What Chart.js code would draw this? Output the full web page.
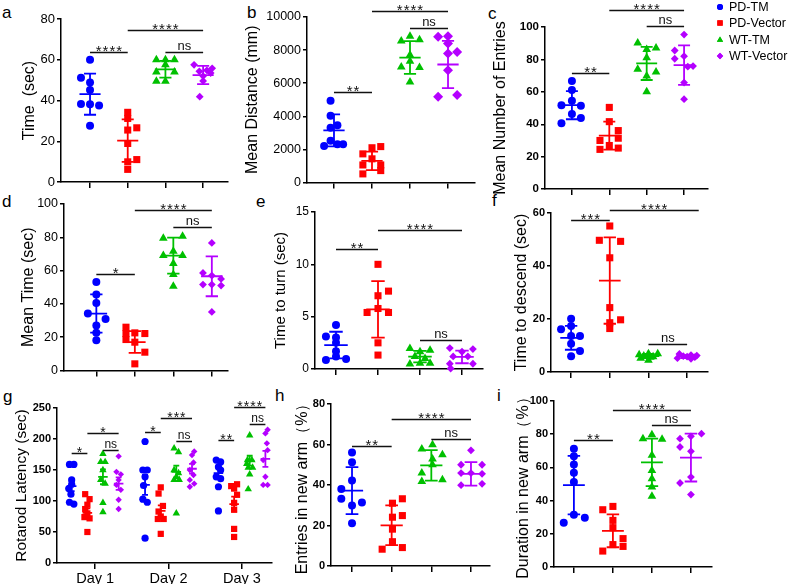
<!DOCTYPE html>
<html>
<head>
<meta charset="utf-8">
<script src="https://cdn.jsdelivr.net/npm/chart.js@4.4.1/dist/chart.umd.min.js"></script>
<style>
  body { margin: 0; background: #fff; }
  #fig { position: relative; width: 790px; height: 584px; overflow: hidden; background: #fff; }
  #fig canvas { position: absolute; }
  .lt { position: absolute; font: 17px "Liberation Sans", Arial, sans-serif; line-height: 17px; color: #000; }
</style>
</head>
<body>
<div id="fig">
  <div class="lt" style="left:2px;top:4px">a</div>
  <div class="lt" style="left:247px;top:4px">b</div>
  <div class="lt" style="left:488px;top:5px">c</div>
  <div class="lt" style="left:2px;top:193px">d</div>
  <div class="lt" style="left:256px;top:193px">e</div>
  <div class="lt" style="left:492px;top:192px">f</div>
  <div class="lt" style="left:3px;top:388px">g</div>
  <div class="lt" style="left:275px;top:387px">h</div>
  <div class="lt" style="left:497px;top:387px">i</div>
</div>
<script>
var groups = ['PD-TM', 'PD-Vector', 'WT-TM', 'WT-Vector'];
var colors = ['#0000ff', '#ff0000', '#00c000', '#b400ff'];
var shapes = ['circle', 'rect', 'triangle', 'rectRot'];

// a - time (sec)
var aY = [[60, 51.2, 48.8, 45.2, 38.3, 38.1, 37.6, 27.6],
          [34.2, 31.2, 26.6, 25.5, 18.9, 9.9, 11.0, 6.2],
          [60, 60, 60, 57.5, 54, 54, 49.5, 49.5],
          [57.5, 55.8, 54.8, 54.3, 52, 49.6, 41.9, 53.5]];
var aX = [[0, -0.24, 0, 0, -0.24, 0, 0.24, 0],
          [0, 0, 0.24, 0, 0, 0, 0.24, 0],
          [-0.24, 0, 0.24, 0, -0.24, 0.24, -0.24, 0],
          [-0.24, 0.24, 0.1, -0.1, 0, 0, -0.09, 0.2]];
var aMean = [43.1, 20.3, 55.3, 52.5];
var aSD = [10.1, 10.4, 4.1, 4.5];
var aSig = [[1, 2, 64, '****'], [2, 4, 74.4, '****'], [3, 4, 64, 'ns']];

// b - mean distance (mm)
var bY = [[4940, 4040, 3460, 3310, 2530, 2210, 2310, 2310],
          [2100, 2170, 1730, 1430, 1060, 1060, 520, 720],
          [8840, 8550, 8630, 7700, 7330, 6980, 6950, 6080],
          [8800, 8840, 8400, 7890, 7790, 6790, 5180, 5280]];
var bX = [[-0.09, -0.09, 0.09, -0.09, -0.09, -0.26, 0.09, 0.24],
          [0, 0.23, -0.24, 0, -0.24, 0.23, -0.24, 0.23],
          [0, -0.23, 0.25, 0, 0, -0.23, 0.25, 0],
          [-0.26, 0, 0, 0.24, 0, 0, -0.26, 0.24]];
var bMean = [3150, 1310, 7550, 7130];
var bSD = [970, 560, 990, 1430];
var bSig = [[1, 2, 5480, '**'], [2, 4, 10340, '****'], [3, 4, 9360, 'ns']];

// c - mean number of entries
var cY = [[66.7, 61.2, 54.5, 51.8, 51.4, 46.3, 40.6, 43.9],
          [50.4, 41.6, 36.1, 30, 31.4, 24.5, 26.9, 25.3],
          [90.2, 86.1, 87.1, 81, 73.9, 72.2, 69.8, 60],
          [95.3, 85.5, 82, 80.4, 75.9, 75.5, 65.7, 55.5]];
var cX = [[0, 0, 0, -0.28, 0.24, 0, -0.28, 0.24],
          [0, 0, 0.24, -0.25, 0.24, -0.25, 0, 0.24],
          [-0.24, 0, 0.25, 0, -0.24, 0.25, 0, 0],
          [0, -0.25, 0, -0.25, 0.24, 0.1, 0, 0]];
var cMean = [51.8, 33, 77.5, 76.5];
var cSD = [8.7, 8.6, 10.2, 12.2];
var cSig = [[1, 2, 71.4, '**'], [2, 4, 110.6, '****'], [3, 4, 100.4, 'ns']];

// d - mean time (sec)
var dY = [[53.2, 45.6, 40.6, 34.2, 31, 27, 22.6, 18.2],
          [26, 22.2, 22.6, 22.2, 18.6, 17, 11, 4],
          [79.4, 80.6, 71.6, 69, 69, 64.2, 57.6, 50.6],
          [76.6, 58.6, 57, 55, 51.6, 51.6, 51, 35.2]];
var dX = [[0, 0, 0, -0.22, 0.24, 0, 0, 0],
          [-0.23, -0.23, 0, 0.26, -0.23, 0, 0.26, 0],
          [-0.26, 0.24, 0, -0.26, 0.24, 0, 0, 0],
          [0, -0.23, 0, 0.24, -0.23, 0, 0.24, 0]];
var dMean = [34.2, 17.1, 69, 56.6];
var dSD = [11.5, 6.5, 10.8, 12];
var dSig = [[1, 2, 58, '*'], [2, 4, 96.2, '****'], [3, 4, 86, 'ns']];

// e - time to turn (sec)
var eY = [[4.2, 3.1, 3.0, 2.5, 1.7, 0.86, 1.2, 0.95],
          [10, 7.44, 7, 5.78, 5.4, 5.4, 2.5, 1.33],
          [1.97, 1.65, 1.8, 1.2, 1.0, 0.48, 0.54, 0.54],
          [2.0, 1.9, 1.65, 1.2, 1.2, 0.5, 0.5, 0.05]];
var eX = [[0, -0.24, 0, 0, 0, -0.24, 0, 0.24],
          [0, 0.25, 0, 0, -0.26, 0.25, 0, 0],
          [-0.24, 0, 0.24, -0.12, 0.12, -0.24, 0, 0.24],
          [-0.29, 0.26, 0, -0.21, 0.14, -0.29, 0.26, -0.27]];
var eMean = [2.29, 5.7, 1.18, 1.15];
var eSD = [1.27, 2.7, 0.55, 0.6];
var eSig = [[1, 2, 11.5, '**'], [2, 4, 13.3, '****'], [3, 4, 2.76, 'ns']];

// f - time to descend (sec)
var fY = [[20.1, 16.1, 17.4, 13.6, 13.6, 10.7, 7.9, 5.9],
          [55.1, 49.7, 49.3, 43.1, 24.3, 18.6, 19.7, 16.4],
          [6.9, 6.9, 6.5, 6.0, 5.8, 5.6, 5.2, 4.4],
          [6.8, 6.4, 6.2, 6.0, 5.8, 5.6, 5.2, 5.0]];
var fX = [[0, -0.26, 0, 0, 0.23, 0, 0.23, 0],
          [0, -0.27, 0.28, 0, 0, 0, 0.28, 0],
          [0, 0.24, -0.24, -0.12, 0.12, 0.05, -0.2, 0],
          [-0.2, 0.1, 0.25, -0.1, 0, 0.2, -0.25, 0.1]];
var fMean = [12.9, 34.5, 6, 5.8];
var fSD = [4.5, 16.3, 0.8, 0.6];
var fSig = [[1, 2, 57.2, '***'], [2, 4.3, 61.3, '****'], [3, 4, 10.7, 'ns']];

// g - rotarod latency, [group][day]
var gDays = ['Day 1', 'Day 2', 'Day 3'];
var gShift = [-0.32, -0.106, 0.106, 0.32];
var gY = [
  [[159, 159, 134, 127, 120, 111, 98, 95], [196, 150, 150, 139, 125, 103, 98, 40], [166, 163, 155, 150, 139, 136, 123, 84]],
  [[111, 103, 94, 87, 80, 74, 72, 50], [122, 112, 92, 83, 75, 71, 71, 47], [127, 124, 120, 110, 97, 86, 55, 42]],
  [[176, 163, 163, 150, 134, 128, 97, 82], [185, 179, 150, 145, 139, 134, 134, 80], [206, 166, 166, 160, 154, 154, 143, 119]],
  [[172, 147, 143, 134, 126, 118, 102, 87], [180, 174, 162, 150, 142, 134, 128, 123], [215, 209, 193, 182, 166, 139, 126, 126]]
];
var gX = [
  [[-0.03, 0.03, 0, 0, -0.04, -0.01, -0.03, 0.03], [0, -0.03, 0.03, 0, -0.02, -0.03, 0.03, 0], [-0.03, 0.03, 0, 0.03, -0.03, 0.03, 0, 0]],
  [[-0.03, 0.03, 0, -0.03, 0, -0.04, 0.03, 0], [0, -0.03, 0.03, -0.03, 0, -0.04, 0.04, 0], [0.04, -0.04, 0, 0.04, 0, 0, 0, 0]],
  [[0, -0.03, 0.03, 0, -0.03, 0.03, 0, 0], [-0.03, 0.03, -0.03, 0.03, 0, -0.03, 0.04, 0], [0, -0.03, 0.03, -0.04, -0.02, 0.04, 0, -0.02]],
  [[0, -0.03, 0.03, 0, -0.03, 0.03, 0, 0], [0.03, 0, 0.02, -0.03, 0.02, -0.03, 0.03, -0.03], [0.03, 0, 0.02, 0.03, -0.03, 0, 0.03, -0.03]]
];
var gMean = [[124, 126, 145], [81, 84, 95], [139, 147, 165], [128, 152, 168]];
var gErr = [[8, 16, 9], [7, 9, 12], [12, 10, 8], [10, 8, 13]];
// [day, group a, group b, y, label]
var gSig = [[0, 0, 1, 178, '*'], [0, 1, 3, 210, '*'], [0, 2, 3, 182, 'ns'],
            [1, 0, 1, 211, '*'], [1, 1, 3, 234, '***'], [1, 2, 3, 196, 'ns'],
            [2, 0, 1, 199, '**'], [2, 1, 3, 252, '****'], [2, 2, 3, 225, 'ns']];

// h - entries in new arm (%)
var hY = [[56.1, 51.2, 42.2, 38, 33.2, 31.4, 29.9, 21.1],
          [33.2, 31, 24.1, 24.9, 18.2, 12, 8.3, 9.1],
          [57.8, 59.9, 55, 52.8, 50, 45.9, 41.7, 42.6],
          [57.1, 50, 50, 45.9, 45.9, 45.5, 39.9, 40.6]];
var hX = [[0, 0, 0, -0.27, -0.27, 0.25, 0, 0],
          [0.27, 0.02, 0.02, 0.27, 0.02, 0.02, -0.24, 0.27],
          [-0.24, 0.03, 0.28, 0.03, 0.03, -0.24, -0.24, 0.28],
          [0, -0.25, 0.28, 0, -0.25, 0.28, -0.25, 0.28]];
var hMean = [37.2, 20.1, 49.7, 45.5];
var hSD = [11.6, 9.8, 7.5, 5.8];
var hSig = [[1, 2, 59.4, '**'], [2, 4, 72.8, '****'], [3, 4, 62.7, 'ns']];

// i - duration in new arm (%)
var iY = [[71.3, 66.7, 61.8, 56.8, 51.2, 31.5, 29.7, 26.7],
          [34.5, 36.5, 28.1, 23.7, 17.1, 13.5, 12.4, 9.6],
          [79.7, 77.3, 76.9, 67.3, 58.2, 53.2, 48.2, 42.6],
          [77.3, 78.7, 80.3, 72.3, 69.7, 54.2, 50.6, 43.6]];
var iX = [[0, 0, 0, 0, 0, 0, 0.28, -0.26],
          [-0.26, 0, 0, 0, 0.26, 0, 0.26, -0.26],
          [0, -0.23, 0.26, 0, 0, 0, 0, 0],
          [-0.28, 0, 0.27, -0.28, 0, 0, -0.28, 0]];
var iMean = [49.3, 21.8, 63, 65.9];
var iSD = [17.6, 9.9, 14.3, 14.4];
var iSig = [[1, 2, 76.3, '**'], [2, 4, 94.4, '****'], [3, 4, 85.7, 'ns']];

Chart.defaults.font.family = '"Liberation Sans", Arial, sans-serif';
Chart.defaults.color = '#000';
var fig = document.getElementById('fig');

function pointSet(k, data, small, invTri) {
  var r = [4, 5, 5, 3.9];
  if (small) r = [3.6, 4.4, 4.3, 3.2];
  return {
    data: data,
    pointStyle: shapes[k],
    pointRotation: (invTri && k == 3) ? 180 : 0,
    pointRadius: (invTri && k == 3) ? 5 : r[k],
    backgroundColor: colors[k],
    borderWidth: 0,
    clip: false
  };
}

// 4-group panel -> datasets, bars, brackets
function fourGroup(Y, X, M, S, sig, invTri) {
  var sets = [], bars = [], br = [];
  for (var k = 0; k < 4; k++) {
    sets.push(pointSet(k, Y[k].map(function (v, j) { return { x: k + 1 + X[k][j], y: v }; }), false, invTri));
    bars.push({ x: k + 1, m: M[k], sd: S[k], color: colors[k] });
  }
  sig.forEach(function (s) { br.push({ x1: s[0], x2: s[1], y: s[2], t: s[3] }); });
  return { sets: sets, bars: bars, br: br };
}

function marks(p) {
  return {
    id: 'marks',
    afterDatasetsDraw: function (chart) {
      var ctx = chart.ctx, xs = chart.scales.x, ys = chart.scales.y;
      ctx.save();
      ctx.lineWidth = 1.8;
      p.bars.forEach(function (b) {
        var x = xs.getPixelForValue(b.x);
        var mw = xs.getPixelForValue(b.x + p.mw) - x;
        var cw = xs.getPixelForValue(b.x + p.cw) - x;
        var ym = ys.getPixelForValue(b.m);
        var yt = ys.getPixelForValue(b.m + b.sd);
        var yb = ys.getPixelForValue(b.m - b.sd);
        ctx.strokeStyle = b.color;
        ctx.beginPath();
        ctx.moveTo(x - mw, ym); ctx.lineTo(x + mw, ym);
        ctx.moveTo(x, yt); ctx.lineTo(x, yb);
        ctx.moveTo(x - cw, yt); ctx.lineTo(x + cw, yt);
        ctx.moveTo(x - cw, yb); ctx.lineTo(x + cw, yb);
        ctx.stroke();
      });
      ctx.strokeStyle = '#111';
      ctx.fillStyle = '#111';
      ctx.lineWidth = 1.5;
      ctx.textAlign = 'center';
      ctx.textBaseline = 'alphabetic';
      p.br.forEach(function (s) {
        var x1 = xs.getPixelForValue(s.x1), x2 = xs.getPixelForValue(s.x2);
        var y = Math.round(ys.getPixelForValue(s.y)) + 0.5;
        ctx.beginPath();
        ctx.moveTo(x1, y); ctx.lineTo(x2, y);
        ctx.stroke();
        if (s.t == 'ns') {
          ctx.font = p.sigSize + 'px "Liberation Sans", Arial, sans-serif';
          ctx.fillText('ns', (x1 + x2) / 2, y - 3);
        } else {
          ctx.font = (p.sigSize + 2) + 'px "Liberation Sans", Arial, sans-serif';
          ctx.letterSpacing = '1px';
          ctx.fillText(s.t, (x1 + x2) / 2 + 0.5, y + 3);
          ctx.letterSpacing = '0px';
        }
      });
      ctx.restore();
    }
  };
}

var legendPlugin = {
  id: 'groupLegend',
  afterDraw: function (chart) {
    var ctx = chart.ctx;
    var ys = [7, 23, 40, 56];
    var rad = [3, 3.8, 3.6, 3.2];
    ctx.save();
    ctx.font = '12.5px "Liberation Sans", Arial, sans-serif';
    ctx.textBaseline = 'middle';
    ctx.textAlign = 'left';
    for (var k = 0; k < 4; k++) {
      ctx.fillStyle = colors[k];
      Chart.helpers.drawPoint(ctx, { pointStyle: shapes[k], radius: rad[k], rotation: 0, borderWidth: 0 }, 234, ys[k]);
      ctx.fill();
      ctx.fillStyle = '#000';
      ctx.fillText(groups[k], 243, ys[k] + 1);
    }
    ctx.restore();
  }
};

function panel(p) {
  var cv = document.createElement('canvas');
  cv.width = p.box[2];
  cv.height = p.box[3];
  cv.style.left = p.box[0] + 'px';
  cv.style.top = p.box[1] + 'px';
  fig.appendChild(cv);
  var padTop = p.area[1] - p.box[1];
  var padRight = p.box[0] + p.box[2] - p.area[2];
  var yW = p.area[0] - p.box[0];
  var xH = p.box[1] + p.box[3] - p.area[3];
  var plugins = [marks(p)];
  if (p.legend) plugins.push(legendPlugin);
  new Chart(cv, {
    type: 'scatter',
    data: { datasets: p.sets },
    options: {
      responsive: false,
      animation: false,
      events: [],
      layout: { padding: { top: padTop, right: padRight, left: 0, bottom: 0 } },
      plugins: { legend: { display: false }, tooltip: { enabled: false } },
      scales: {
        x: {
          type: 'linear', min: p.xmin, max: p.xmax,
          afterFit: function (s) { s.height = xH; },
          afterBuildTicks: function (s) { s.ticks = p.xTicks.map(function (v) { return { value: v }; }); },
          grid: { display: true, drawOnChartArea: false, drawTicks: true, tickLength: 6, color: '#000', lineWidth: 1.5 },
          border: { display: true, color: '#000', width: 1.5 },
          ticks: {
            autoSkip: false, maxRotation: 0, padding: 1, color: '#000',
            font: { size: 14.5 },
            callback: function (v, i) { return p.xLabels ? p.xLabels[i] : ''; }
          }
        },
        y: {
          min: 0, max: p.ymax,
          afterFit: function (s) { s.width = yW; },
          grid: { display: true, drawOnChartArea: false, drawTicks: true, tickLength: 4, color: '#000', lineWidth: 1.5 },
          border: { display: true, color: '#000', width: 1.5 },
          ticks: { stepSize: p.step, padding: 2, color: '#000', font: p.tickFont,
                   callback: function (v) { return String(v); } },
          title: {
            display: true, text: p.title, color: '#000',
            font: { size: p.titleSize },
            padding: { top: p.titlePad, bottom: 0 }
          }
        }
      }
    },
    plugins: plugins
  });
}

function std(extra, d) {
  for (var key in d) extra[key] = d[key];
  extra.xTicks = [1, 2, 3, 4];
  extra.mw = 0.28;
  extra.cw = 0.16;
  extra.sigSize = 13;
  return extra;
}

panel(std({ box: [0, 0, 240, 192], area: [61, 19, 228, 182], xmin: 0.23, xmax: 4.66, ymax: 80, step: 20,
  title: 'Time  (sec)', titleSize: 16, titlePad: 20, tickFont: { size: 13 } }, fourGroup(aY, aX, aMean, aSD, aSig)));

panel(std({ box: [232, 0, 254, 192], area: [307, 17, 475, 183], xmin: 0.29, xmax: 4.71, ymax: 10000, step: 2000,
  title: 'Mean Distance (mm)', titleSize: 16, titlePad: 11, tickFont: { size: 12.5 } }, fourGroup(bY, bX, bMean, bSD, bSig, true)));

panel(std({ box: [486, 0, 304, 198], area: [545, 27, 708, 191], xmin: 0.28, xmax: 4.64, ymax: 100, step: 20,
  title: 'Mean Number of Entries', titleSize: 16, titlePad: 5, tickFont: { size: 11.5, weight: 'bold' }, legend: true },
  fourGroup(cY, cX, cMean, cSD, cSig)));

panel(std({ box: [0, 190, 240, 190], area: [64, 204, 228, 371], xmin: 0.16, xmax: 4.42, ymax: 100, step: 20,
  title: 'Mean Time (sec)', titleSize: 16, titlePad: 19, tickFont: { size: 12.5 } }, fourGroup(dY, dX, dMean, dSD, dSig)));

panel(std({ box: [240, 190, 250, 190], area: [315, 212, 483, 369], xmin: 0.5, xmax: 4.5, ymax: 15, step: 5,
  title: 'Time to turn (sec)', titleSize: 15, titlePad: 32, tickFont: { size: 12 } }, fourGroup(eY, eX, eMean, eSD, eSig)));

panel(std({ box: [486, 190, 304, 192], area: [551, 213, 708, 372], xmin: 0.48, xmax: 4.54, ymax: 60, step: 20,
  title: 'Time to descend (sec)', titleSize: 16, titlePad: 26, tickFont: { size: 11, weight: 'bold' } }, fourGroup(fY, fX, fMean, fSD, fSig)));

// g: three days, four groups each
var gSets = [], gBars = [], gBr = [];
for (var k = 0; k < 4; k++) {
  var pts = [];
  for (var d = 0; d < 3; d++) {
    for (var j = 0; j < gY[k][d].length; j++) {
      pts.push({ x: d + 1 + gShift[k] + gX[k][d][j], y: gY[k][d][j] });
    }
    gBars.push({ x: d + 1 + gShift[k], m: gMean[k][d], sd: gErr[k][d], color: colors[k] });
  }
  gSets.push(pointSet(k, pts, true, false));
}
gSig.forEach(function (s) {
  gBr.push({ x1: s[0] + 1 + gShift[s[1]], x2: s[0] + 1 + gShift[s[2]], y: s[3], t: s[4] });
});
panel({ box: [0, 384, 290, 200], area: [57, 408, 272, 563], xmin: 0.48, xmax: 3.41, ymax: 250, step: 50,
  title: 'Rotarod Latency (sec)', titleSize: 15.5, titlePad: 12, tickFont: { size: 11, weight: 'bold' },
  xTicks: [1, 2, 3], xLabels: gDays, mw: 0.065, cw: 0.04, sigSize: 12,
  sets: gSets, bars: gBars, br: gBr });

panel(std({ box: [270, 384, 230, 200], area: [331, 404, 490, 566], xmin: 0.47, xmax: 4.48, ymax: 80, step: 20,
  title: 'Entries in new arm（%）', titleSize: 16, titlePad: 23, tickFont: { size: 11, weight: 'bold' } }, fourGroup(hY, hX, hMean, hSD, hSig)));

panel(std({ box: [500, 384, 290, 200], area: [554, 401, 712, 567], xmin: 0.49, xmax: 4.54, ymax: 100, step: 20,
  title: 'Duration in new arm（%）', titleSize: 16, titlePad: 14, tickFont: { size: 11, weight: 'bold' } }, fourGroup(iY, iX, iMean, iSD, iSig)));
</script>
</body>
</html>
